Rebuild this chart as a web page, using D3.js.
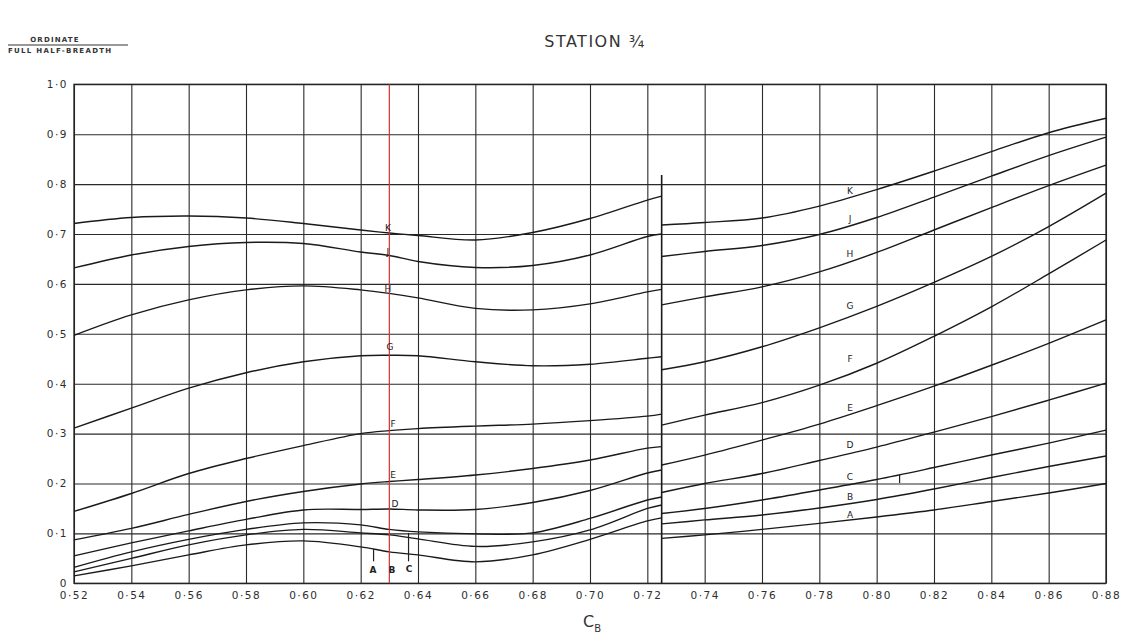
<!DOCTYPE html>
<html>
<head>
<meta charset="utf-8">
<script src="https://cdn.jsdelivr.net/npm/d3@7"></script>
<style>
  body { margin: 0; background: #fff; }
  svg { display: block; }
  .grid line { stroke: #2a2a2a; stroke-width: 1.1; }
  .grid .domain { display: none; }
  .grid text { font-family: "DejaVu Sans", sans-serif; font-size: 10.5px; fill: #2e2e2e; letter-spacing: 1.5px; }
  .curve { fill: none; stroke: #1a1a1a; stroke-width: 1.4; stroke-linejoin: round; }
  .lbl { font-family: "DejaVu Sans", sans-serif; font-size: 9px; fill: #222; }
</style>
</head>
<body>
<script>
/* ===== data ===== */
// x values (block coefficient) for the two halves of each curve
var cbLeft  = [0.52, 0.54, 0.56, 0.58, 0.60, 0.62, 0.63, 0.64, 0.66, 0.68, 0.70, 0.72, 0.725];
var cbRight = [0.725, 0.74, 0.76, 0.78, 0.80, 0.82, 0.84, 0.86, 0.88];

var curveNames = ["A", "B", "C", "D", "E", "F", "G", "H", "J", "K"];

// ordinate / full half-breadth, left half (cb 0.52 - 0.725)
var aLeft = [0.015, 0.035, 0.057, 0.077, 0.085, 0.073, 0.063, 0.057, 0.043, 0.057, 0.088, 0.125, 0.131];
var bLeft = [0.023, 0.050, 0.077, 0.097, 0.108, 0.101, 0.097, 0.089, 0.074, 0.083, 0.107, 0.150, 0.157];
var cLeft = [0.032, 0.063, 0.088, 0.108, 0.121, 0.117, 0.108, 0.103, 0.099, 0.101, 0.130, 0.167, 0.173];
var dLeft = [0.055, 0.081, 0.105, 0.128, 0.147, 0.148, 0.149, 0.147, 0.148, 0.162, 0.186, 0.221, 0.227];
var eLeft = [0.087, 0.110, 0.138, 0.164, 0.184, 0.199, 0.204, 0.208, 0.217, 0.230, 0.247, 0.271, 0.274];
var fLeft = [0.144, 0.180, 0.220, 0.250, 0.276, 0.300, 0.306, 0.310, 0.315, 0.319, 0.326, 0.335, 0.339];
var gLeft = [0.311, 0.351, 0.391, 0.422, 0.444, 0.456, 0.457, 0.456, 0.444, 0.436, 0.439, 0.451, 0.454];
var hLeft = [0.497, 0.538, 0.568, 0.588, 0.596, 0.588, 0.581, 0.572, 0.551, 0.548, 0.560, 0.584, 0.589];
var jLeft = [0.632, 0.658, 0.675, 0.683, 0.681, 0.664, 0.657, 0.645, 0.633, 0.637, 0.658, 0.695, 0.700];
var kLeft = [0.721, 0.733, 0.736, 0.732, 0.721, 0.708, 0.702, 0.697, 0.688, 0.703, 0.731, 0.768, 0.776];

// right half (cb 0.725 - 0.88)
var aRight = [0.090, 0.097, 0.108, 0.120, 0.133, 0.147, 0.164, 0.181, 0.200];
var bRight = [0.119, 0.127, 0.137, 0.151, 0.168, 0.189, 0.212, 0.234, 0.255];
var cRight = [0.140, 0.150, 0.167, 0.187, 0.208, 0.232, 0.257, 0.281, 0.307];
var dRight = [0.182, 0.200, 0.220, 0.246, 0.273, 0.303, 0.334, 0.367, 0.401];
var eRight = [0.237, 0.257, 0.287, 0.319, 0.356, 0.395, 0.437, 0.481, 0.528];
var fRight = [0.317, 0.337, 0.362, 0.397, 0.441, 0.495, 0.554, 0.620, 0.688];
var gRight = [0.428, 0.444, 0.474, 0.512, 0.555, 0.603, 0.655, 0.715, 0.782];
var hRight = [0.558, 0.574, 0.594, 0.624, 0.663, 0.708, 0.753, 0.797, 0.838];
var jRight = [0.655, 0.665, 0.677, 0.699, 0.733, 0.774, 0.816, 0.857, 0.894];
var kRight = [0.718, 0.723, 0.732, 0.756, 0.789, 0.826, 0.865, 0.903, 0.932];

// axis ticks
var xTicks = [0.52, 0.54, 0.56, 0.58, 0.60, 0.62, 0.64, 0.66, 0.68, 0.70, 0.72, 0.74, 0.76, 0.78, 0.80, 0.82, 0.84, 0.86, 0.88];
var xTickLabels = ["0·52", "0·54", "0·56", "0·58", "0·60", "0·62", "0·64", "0·66", "0·68", "0·70", "0·72", "0·74", "0·76", "0·78", "0·80", "0·82", "0·84", "0·86", "0·88"];
var yTicks = [0, 0.1, 0.2, 0.3, 0.4, 0.5, 0.6, 0.7, 0.8, 0.9, 1.0];
var yTickLabels = ["0", "0·1", "0·2", "0·3", "0·4", "0·5", "0·6", "0·7", "0·8", "0·9", "1·0"];

// curve letters written on the chart (cb, ordinate)
var leftLabelNames = ["K", "J", "H", "G", "F", "E", "D", "A", "B", "C"];
var leftLabelCb    = [0.6295, 0.6295, 0.6295, 0.6302, 0.6313, 0.6313, 0.632, 0.6243, 0.6309, 0.6369];
var leftLabelOrd   = [0.712, 0.665, 0.591, 0.474, 0.319, 0.217, 0.160, 0.027, 0.027, 0.029];
var rightLabelNames = ["K", "J", "H", "G", "F", "E", "D", "C", "B", "A"];
var rightLabelCb = 0.7907;
var rightLabelOrd  = [0.787, 0.731, 0.661, 0.556, 0.449, 0.351, 0.277, 0.213, 0.173, 0.137];

// little pointer strokes (cb, from, to)
var markCb   = [0.6245, 0.6367, 0.808];
var markFrom = [0.069, 0.101, 0.217];
var markTo   = [0.044, 0.044, 0.201];

var redLineCb = 0.63;
var breakCb = 0.725, breakTop = 0.818;

/* ===== svg ===== */
var w = 1132, h = 633;
var plotLeft = 74, plotRight = 1106, plotTop = 84.3, plotBottom = 583.3;

var svg = d3.select("body").append("svg")
    .attr("width", w)
    .attr("height", h);

var xScale = d3.scaleLinear().domain([0.52, 0.88]).range([plotLeft, plotRight]);
var yScale = d3.scaleLinear().domain([0, 1]).range([plotBottom, plotTop]);

// grid + tick labels
svg.append("g")
    .attr("class", "grid")
    .attr("transform", "translate(0," + plotBottom + ")")
    .call(d3.axisBottom(xScale)
        .tickValues(xTicks)
        .tickSize(-(plotBottom - plotTop))
        .tickPadding(8)
        .tickFormat(function (d, i) { return xTickLabels[i]; }));

svg.append("g")
    .attr("class", "grid")
    .attr("transform", "translate(" + plotLeft + ",0)")
    .call(d3.axisLeft(yScale)
        .tickValues(yTicks)
        .tickSize(-(plotRight - plotLeft))
        .tickPadding(6)
        .tickFormat(function (d, i) { return yTickLabels[i]; }));

// frame
svg.append("rect")
    .attr("x", plotLeft).attr("y", plotTop)
    .attr("width", plotRight - plotLeft).attr("height", plotBottom - plotTop)
    .attr("fill", "none").attr("stroke", "#222").attr("stroke-width", 1.3);

// break between the two halves
svg.append("line")
    .attr("x1", xScale(breakCb)).attr("x2", xScale(breakCb))
    .attr("y1", yScale(breakTop)).attr("y2", yScale(0))
    .attr("stroke", "#1a1a1a").attr("stroke-width", 1.6);

// curves
var leftSets = [aLeft, bLeft, cLeft, dLeft, eLeft, fLeft, gLeft, hLeft, jLeft, kLeft];
var rightSets = [aRight, bRight, cRight, dRight, eRight, fRight, gRight, hRight, jRight, kRight];

var line = d3.line()
    .x(function (d) { return xScale(d[0]); })
    .y(function (d) { return yScale(d[1]); })
    .curve(d3.curveCatmullRom.alpha(0.5));

for (var i = 0; i < curveNames.length; i++) {
    var pl = cbLeft.map(function (c, j) { return [c, leftSets[i][j]]; });
    var pr = cbRight.map(function (c, j) { return [c, rightSets[i][j]]; });
    svg.append("path").datum(pl).attr("class", "curve").attr("d", line);
    svg.append("path").datum(pr).attr("class", "curve").attr("d", line);
}

// pointer strokes
for (var m = 0; m < markCb.length; m++) {
    svg.append("line")
        .attr("x1", xScale(markCb[m])).attr("x2", xScale(markCb[m]))
        .attr("y1", yScale(markFrom[m])).attr("y2", yScale(markTo[m]))
        .attr("stroke", "#222").attr("stroke-width", 1.2);
}

// red cursor line
svg.append("line")
    .attr("x1", xScale(redLineCb)).attr("x2", xScale(redLineCb))
    .attr("y1", yScale(1)).attr("y2", yScale(0))
    .attr("stroke", "#cc3333").attr("stroke-width", 1.2);

// curve letters
leftLabelNames.forEach(function (n, i) {
    svg.append("text").attr("class", "lbl")
        .attr("x", xScale(leftLabelCb[i]))
        .attr("y", yScale(leftLabelOrd[i]))
        .attr("dy", "0.35em")
        .attr("text-anchor", "middle")
        .attr("font-size", i >= 7 ? "10px" : "9px")
        .attr("font-weight", i >= 7 ? "bold" : "normal")
        .text(n);
});
rightLabelNames.forEach(function (n, i) {
    svg.append("text").attr("class", "lbl")
        .attr("x", xScale(rightLabelCb))
        .attr("y", yScale(rightLabelOrd[i]))
        .attr("dy", "0.35em")
        .attr("text-anchor", "middle")
        .text(n);
});

// titles
svg.append("text")
    .attr("x", 595).attr("y", 47)
    .attr("text-anchor", "middle")
    .attr("font-family", "DejaVu Sans, sans-serif")
    .attr("font-size", "16px")
    .attr("letter-spacing", "1.5px")
    .attr("fill", "#333")
    .text("STATION ¾");

svg.append("text")
    .attr("x", 55).attr("y", 42)
    .attr("text-anchor", "middle")
    .attr("font-family", "DejaVu Sans, sans-serif")
    .attr("font-size", "7px").attr("font-weight", "bold")
    .attr("letter-spacing", "1.2px")
    .attr("fill", "#333")
    .text("ORDINATE");
svg.append("line")
    .attr("x1", 8).attr("x2", 128).attr("y1", 45).attr("y2", 45)
    .attr("stroke", "#333").attr("stroke-width", 1);
svg.append("text")
    .attr("x", 8).attr("y", 53)
    .attr("font-family", "DejaVu Sans, sans-serif")
    .attr("font-size", "7px").attr("font-weight", "bold")
    .attr("letter-spacing", "1.3px")
    .attr("fill", "#333")
    .text("FULL HALF-BREADTH");

var xt = svg.append("text")
    .attr("x", 583).attr("y", 627)
    .attr("font-family", "DejaVu Sans, sans-serif")
    .attr("font-size", "16px")
    .attr("fill", "#333")
    .text("C");
xt.append("tspan").attr("font-size", "10px").attr("dy", 5).text("B");
</script>
</body>
</html>
